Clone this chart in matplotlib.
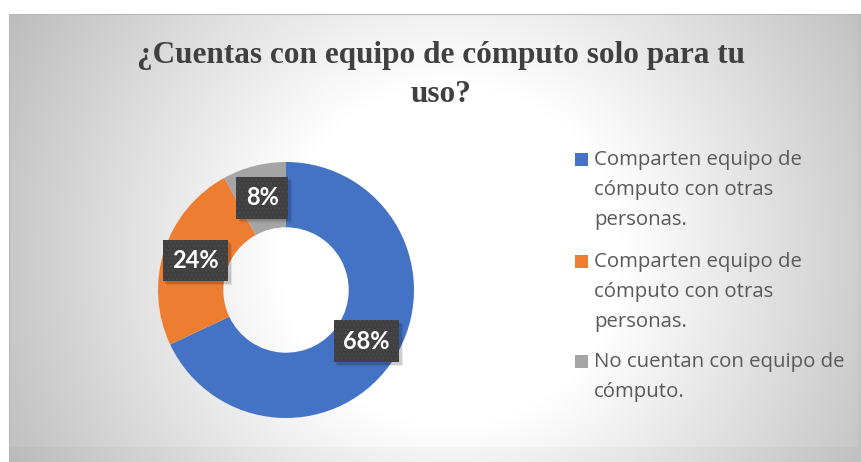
import matplotlib
matplotlib.use('Agg')
import matplotlib.pyplot as plt
import numpy as np
from matplotlib.patches import Rectangle
from matplotlib.transforms import IdentityTransform

W, H = 862, 462
TITLE = '¿Cuentas con equipo de cómputo solo para tu\nuso?'
labels = [
    'Comparten equipo de\ncómputo con otras\npersonas.',
    'Comparten equipo de\ncómputo con otras\npersonas.',
    'No cuentan con equipo de\ncómputo.',
]
shares = [68, 24, 8]
colors = ['#4472C4', '#ED7D31', '#A5A5A5']

TEXT_GRAY = '#595959'
plt.rcParams['hatch.linewidth'] = 0.6


def background():
    yy, xx = np.mgrid[0:H, 0:W]
    d = np.hypot(xx - 450, yy - 255)
    v = np.clip(255 - 0.2 * np.maximum(d - 170, 0), 185, 255) / 255
    outer = (xx >= 858) | (yy >= 447)
    v = np.where(outer, v * 0.975, v)
    img = np.ones((H, W, 3))
    chart = (xx >= 9) & (yy >= 14)
    img[chart] = np.stack([v, v, v], axis=-1)[chart]
    return img


def main():
    fig = plt.figure(figsize=(W / 100, H / 100), dpi=100)

    bg = fig.add_axes([0, 0, 1, 1])
    bg.imshow(background(), aspect='auto', extent=(0, W, H, 0), interpolation='bilinear')
    bg.plot([9, 9, W], [H, 14, 14], color='#b8b8b8', linewidth=0.8)
    bg.set_xlim(0, W)
    bg.set_ylim(H, 0)
    bg.axis('off')

    fig.text(441 / W, 1 - 75 / H, TITLE, ha='center', va='center',
             fontsize=22.5, fontweight='bold', family='Liberation Serif',
             color='#404040', linespacing=1.45)

    # donut
    cx, cy, r = 286, 290, 128
    ax = fig.add_axes([(cx - r) / W, (H - cy - r) / H, 2 * r / W, 2 * r / H])
    ax.patch.set_alpha(0)
    ax.pie(shares, colors=colors, startangle=90, counterclock=False,
           radius=1, wedgeprops=dict(width=0.51, linewidth=0))
    ax.set_xlim(-1, 1)
    ax.set_ylim(-1, 1)
    ax.axis('off')

    total = sum(shares)
    start = 90.0
    pct_texts = []
    for value in shares:
        sweep = 360.0 * value / total
        mid = np.deg2rad(start - sweep / 2)
        start -= sweep
        x, y = 0.745 * np.cos(mid), 0.745 * np.sin(mid)
        t = ax.text(x, y, f'{value}%', ha='center', va='center', fontsize=17,
                    fontweight='bold', family='Lato', color='white', zorder=5,
                    bbox=dict(boxstyle='square,pad=0.4', facecolor='#404040',
                              edgecolor='#4c4c4c', linewidth=0, hatch='....'))
        pct_texts.append(t)

    # soft drop shadow under the label boxes
    fig.canvas.draw()
    for t in pct_texts:
        bb = t.get_bbox_patch().get_window_extent()
        for off, a in [(4, 0.08), (2.5, 0.13)]:
            ax.add_patch(Rectangle((bb.x0 + off, bb.y0 - off), bb.width, bb.height,
                                   transform=IdentityTransform(), facecolor='black',
                                   alpha=a, edgecolor='none', zorder=4, clip_on=False))

    # legend
    entry_tops = [160, 262, 362]
    for label, color, top in zip(labels, colors, entry_tops):
        bg.add_patch(Rectangle((575, top - 7), 13, 13, facecolor=color, edgecolor='none'))
        for i, line in enumerate(label.split('\n')):
            bg.text(594, top + 30 * i, line, ha='left', va='center', fontsize=14.7,
                    family='Open Sans', color=TEXT_GRAY)

    fig.savefig('out.png', dpi=100)


if __name__ == '__main__':
    main()
